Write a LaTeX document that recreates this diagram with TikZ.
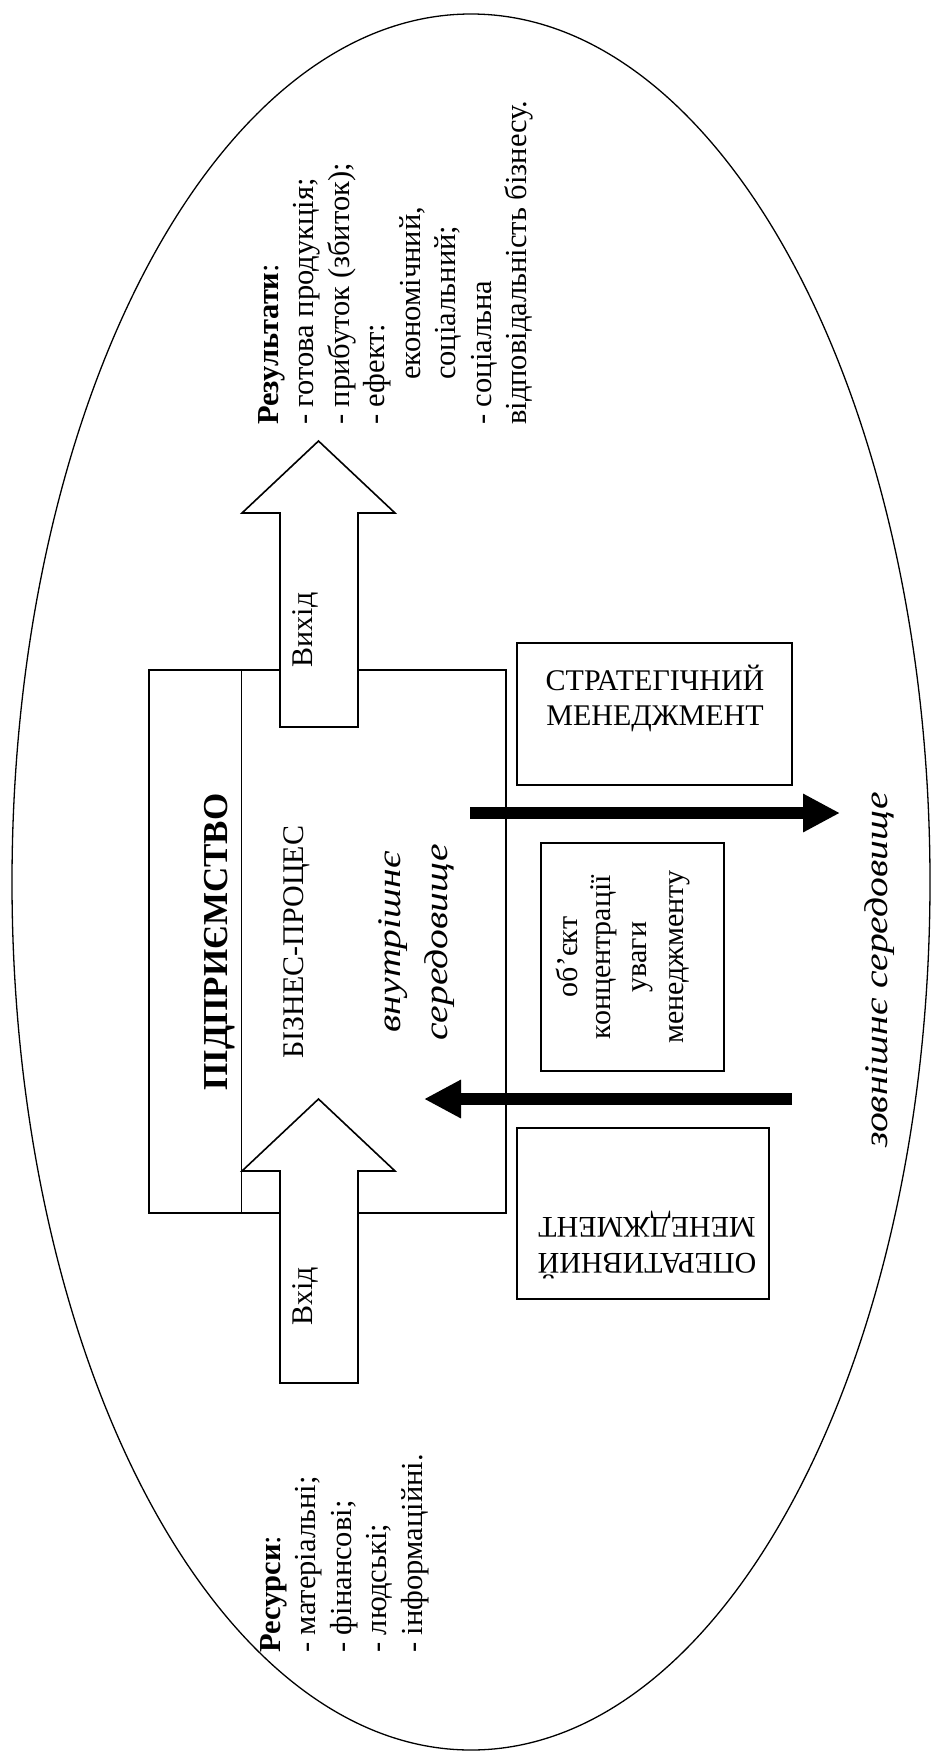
\documentclass[tikz,border=0pt]{standalone}
\usepackage{fontspec}
\setmainfont{Liberation Serif}
\newfontfamily\envfont[FakeStretch=1.2]{Liberation Serif Italic}
\usetikzlibrary{arrows.meta}

\tikzset{
  frame/.style={draw, line width=1.5pt, inner sep=0pt},
  blockarrow/.style={draw, fill=white, line width=1.6pt, line join=miter},
  flow/.style={line width=12pt, -{Triangle[length=37pt,width=36pt]}},
  txt/.style={inner sep=0pt, font=\fontsize{30}{35}\selectfont},
  uptxt/.style={txt, rotate=90, anchor=base},
  envtxt/.style={inner sep=0pt, rotate=90, anchor=base, font=\envfont\fontsize{33}{40}\selectfont},
  listtxt/.style={inner sep=0pt, rotate=90, anchor=north west, align=left,
                  font=\fontsize{30.5}{35.5}\selectfont}
}

\begin{document}
\begin{tikzpicture}[x=1pt, y=-1pt]
  \useasboundingbox (0,0) rectangle (933,1758);
  \fill[white] (0,0) rectangle (933,1758);

  % external environment
  \draw[line width=1.3pt] (471,882) ellipse [x radius=459pt, y radius=868pt];

  % enterprise with its business-process column
  \node (firm) [draw, line width=1.2pt, inner sep=0pt,
                minimum width=357pt, minimum height=543pt] at (327.5,941.5) {};
  \draw[line width=1.2pt] (firm.north west) ++(93,0) coordinate (divTop)
        -- (divTop |- firm.south);

  % output and input block arrows
  \draw[blockarrow] (280,727) -- (280,513) -- (242,513) -- (318.5,441)
        -- (395,513) -- (358,513) -- (358,727) -- cycle;
  \draw[blockarrow] (280,1383) -- (280,1171) -- (242,1171) -- (318.5,1099)
        -- (395,1171) -- (358,1171) -- (358,1383) -- cycle;
  \node (outLbl) [uptxt] at (312,630) {Вихід};
  \node (inLbl)  [uptxt] at (312,1296) {Вхід};

  % titles inside the enterprise
  \node (firmTitle) [inner sep=0pt, rotate=90, anchor=base,
        font=\bfseries\fontsize{35}{40}\selectfont] at (227,942) {ПІДПРИЄМСТВО};
  \node (procTitle) [uptxt] at (303,942) {БІЗНЕС-ПРОЦЕС};
  \node (innerA) [envtxt] at (400,942) {внутрішнє};
  \node (innerB) [envtxt] at (447,942) {середовище};

  % outer environment label
  \node (outerEnv) [envtxt] at (887,970) {зовнішнє середовище};

  % strategic management
  \node (strat) [frame, minimum width=275pt, minimum height=142pt] at (654.5,714) {};
  \node (stratA) [txt, anchor=base] at (655,690) {СТРАТЕГІЧНИЙ};
  \node (stratB) [txt, anchor=base] at (655,725) {МЕНЕДЖМЕНТ};

  % object of management attention
  \node (focus) [frame, minimum width=183pt, minimum height=228pt] at (632.5,957) {};
  \node (focusA) [uptxt] at (577,957) {об’єкт};
  \node (focusB) [uptxt] at (610,957) {концентрації};
  \node (focusC) [uptxt] at (646,957) {уваги};
  \node (focusD) [uptxt] at (683,957) {менеджменту};

  % operational management
  \node (oper) [frame, minimum width=252pt, minimum height=171pt] at (643,1213.5) {};
  \node (operA) [txt, rotate=180, anchor=base] at (647,1253) {ОПЕРАТИВНИЙ};
  \node (operB) [txt, rotate=180, anchor=base] at (647,1217) {МЕНЕДЖМЕНТ};

  % exchange with the environment
  \coordinate (fromInside) at (470,813);
  \coordinate (toOutside) at (840,813);
  \coordinate (fromOutside) at (792,1099);
  \coordinate (toInside) at (424,1099);
  \draw[flow] (fromInside) -- (toOutside);
  \draw[flow] (fromOutside) -- (toInside);

  % results and resources
  \node (results) [listtxt] at (258,425) {\textbf{Результати}:\\
    - готова продукція;\\
    - прибуток (збиток);\\
    - ефект:\\
    \hspace*{45pt}економічний,\\
    \hspace*{45pt}соціальний;\\
    - соціальна\\
    відповідальність бізнесу.};
  \node (resources) [listtxt] at (260,1653) {\textbf{Ресурси}:\\
    - матеріальні;\\
    - фінансові;\\
    - людські;\\
    - інформаційні.};
\end{tikzpicture}
\end{document}
